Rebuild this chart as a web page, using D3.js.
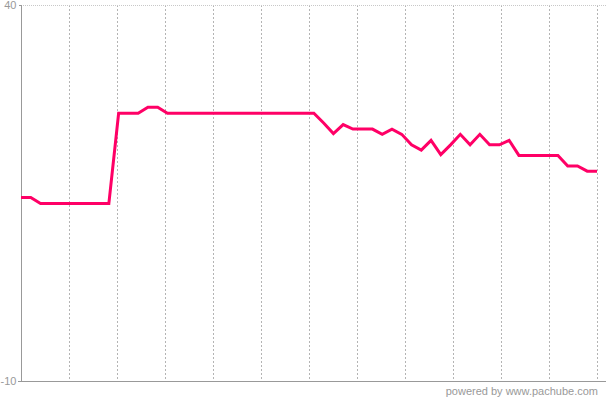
<!DOCTYPE html>
<meta charset="utf-8">
<style>
body { margin: 0; background: #fff; }
.grid line { stroke: #b4b4b4; stroke-dasharray: 2,2; shape-rendering: crispEdges; }
.axisY text, .credit { fill: #999; font-family: "Liberation Sans", Arial, sans-serif; font-size: 11px; }
.axisY path, .axisY line { stroke: #999; shape-rendering: crispEdges; }
.line { fill: none; stroke: #ff0066; stroke-width: 3; stroke-linejoin: miter; }
</style>
<body>
<script src="https://cdn.jsdelivr.net/npm/d3@7"></script>
<script>

// one reading a minute, left to right
var values = [14.4, 14.4,
  13.6, 13.6, 13.6, 13.6, 13.6, 13.6, 13.6, 13.6,
  25.6, 25.6, 25.6, 26.4, 26.4,
  25.6, 25.6, 25.6, 25.6, 25.6, 25.6, 25.6, 25.6,
  25.6, 25.6, 25.6, 25.6, 25.6, 25.6, 25.6, 25.6,
  24.3, 22.9, 24.1, 23.5, 23.5, 23.5, 22.8, 23.5, 22.8,
  21.4, 20.7, 22.0, 20.1, 21.4, 22.8, 21.4, 22.8, 21.4, 21.4,
  22.0, 20.0, 20.0, 20.0, 20.0, 20.0, 18.6, 18.6, 17.9, 17.9];
var yTicks = [-10, 40];
var gridCount = 12;

// plot box (note: "top" is taken by window, so use a margin object)
var width = 606, height = 407;
var plot = {left: 21, right: 597, top: 5, bottom: 381};

var svg = d3.select("body").append("svg")
    .attr("width", width)
    .attr("height", height);

var x = d3.scaleLinear().domain([0, values.length - 1]).range([plot.left, plot.right]);
var xg = d3.scaleLinear().domain([0, gridCount]).range([plot.left, plot.right]);
var y = d3.scaleLinear().domain([yTicks[0], yTicks[1]]).range([plot.bottom, plot.top]);

// dashed vertical grid
svg.append("g")
    .attr("class", "grid")
  .selectAll("line")
    .data(d3.range(1, gridCount + 1))
  .enter().append("line")
    .attr("x1", function(d) { return Math.round(xg(d)) + 0.5; })
    .attr("x2", function(d) { return Math.round(xg(d)) + 0.5; })
    .attr("y1", plot.top)
    .attr("y2", plot.bottom);

// dotted top border
svg.append("line")
    .attr("x1", plot.left).attr("x2", width)
    .attr("y1", plot.top + 0.5).attr("y2", plot.top + 0.5)
    .style("stroke", "#c8c8c8")
    .style("stroke-dasharray", "1,1");

// bottom axis line
svg.append("line")
    .attr("x1", plot.left - 3).attr("x2", width)
    .attr("y1", plot.bottom + 0.5).attr("y2", plot.bottom + 0.5)
    .style("stroke", "#999");

// y axis, plain hyphen for the minus like the original
svg.append("g")
    .attr("class", "axisY")
    .attr("transform", "translate(" + (plot.left + 0.5) + ",0)")
    .call(d3.axisLeft(y).tickValues(yTicks).tickSize(3).tickSizeOuter(0).tickPadding(2)
      .tickFormat(function(d) { return String(d); }))
    .select(".domain").attr("d", "M0," + plot.top + "V" + plot.bottom);

var line = d3.line()
    .x(function(d, i) { return x(i); })
    .y(function(d) { return y(d); });

svg.append("path")
    .datum(values)
    .attr("class", "line")
    .attr("d", line);

svg.append("text")
    .attr("class", "credit")
    .attr("x", 598)
    .attr("y", 395)
    .style("text-anchor", "end")
    .text("powered by www.pachube.com");

</script>
</body>
